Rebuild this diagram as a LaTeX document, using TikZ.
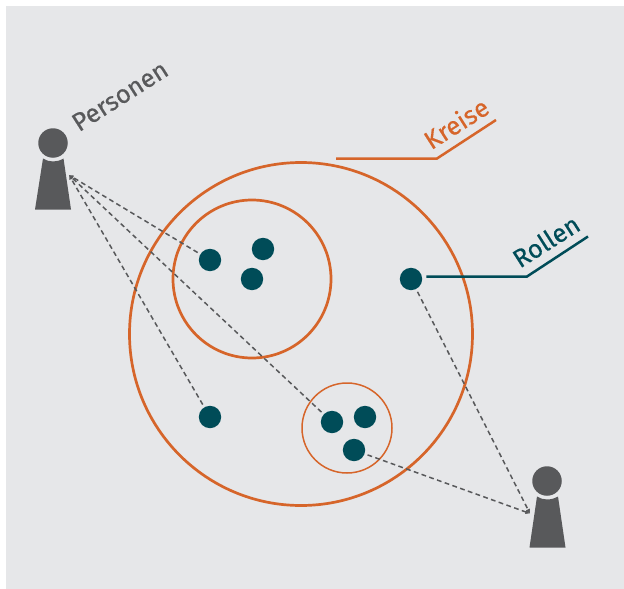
\documentclass[tikz,border=0pt]{standalone}
\usepackage{fontspec}
\setmainfont{Fira Sans}[FakeBold=0.45]
\definecolor{bgc}{HTML}{E6E7E9}
\definecolor{orng}{HTML}{D6652A}
\definecolor{teal}{HTML}{004C58}
\definecolor{grey}{HTML}{58595B}
\usetikzlibrary{arrows.meta}
\tikzset{
  x=1pt,y=-1pt,
  rolle/.style={circle,fill=teal,draw=none,minimum size=22.4pt,inner sep=0pt},
  kopf/.style={circle,fill=grey,draw=none,minimum size=29.5pt,inner sep=0pt},
  kreis/.style={circle,draw=orng,line width=#1,inner sep=0pt},
  kreis/.default=2.7pt,
  bezug/.style={draw=grey,line width=1.5pt,dash pattern=on 4.8pt off 3.4pt,shorten <=3pt,-{Latex[length=4.5pt,width=4.5pt]}},
  koerper/.style={fill=grey,draw=none},
  etikett/.style={font=\fontsize{25.5}{28}\selectfont,rotate=32.5,inner sep=0pt},
}
\begin{document}
\begin{tikzpicture}
\useasboundingbox (0,0) rectangle (624,589);
\fill[bgc] (6,6) rectangle (624,589);
% circles
\node[kreis,minimum size=343pt] (gross) at (301,334) {};
\node[kreis,minimum size=158pt] (mittel) at (252,279) {};
\node[kreis=1.5pt,minimum size=90pt] (klein) at (347,428) {};
% roles
\node[rolle] (r1) at (210,260) {};
\node[rolle] (r2) at (263,249) {};
\node[rolle] (r3) at (252,279) {};
\node[rolle] (r4) at (411,279) {};
\node[rolle] (r5) at (210,417) {};
\node[rolle] (r6) at (332,422) {};
\node[rolle] (r7) at (365,417) {};
\node[rolle] (r8) at (354,450) {};
% persons
\node[kopf] (p1) at (53,143) {};
\fill[koerper] (43,158.5) .. controls (49,162.5) and (57,162.5) .. (63.5,158.5) -- (71,209.5) -- (35,209.5) -- cycle;
\coordinate (a1) at (69,175);
\node[kopf] (p2) at (547,481) {};
\fill[koerper] (537,496.5) .. controls (543,500.5) and (551,500.5) .. (558,496.5) -- (565.5,547.5) -- (529.5,547.5) -- cycle;
\coordinate (a2) at (530,513.5);
% dashed
\draw[bezug] (r1) -- (a1);
\draw[bezug] (r6) -- (a1);
\draw[bezug] (r5) -- (a1);
\draw[bezug] (r4) -- (a2);
\draw[bezug] (r8) -- (a2);
% leaders
\coordinate (k1) at (336,158.5);
\coordinate (k2) at (437,158.5);
\coordinate (k3) at (496,120);
\draw[orng,line width=2.5pt] (k1) -- (k2) -- (k3);
\coordinate (l2) at (527,276.5);
\coordinate (l3) at (588,236.5);
\draw[teal,line width=2.5pt] (r4.east) ++(4,-2.5) coordinate (l1) -- (l2) -- (l3);
% labels
\node[etikett,text=grey] (tp) at (120,96) {Personen};
\node[etikett,text=orng] (tk) at (456,123) {Kreise};
\node[etikett,text=teal] (tr) at (546,241) {Rollen};
\end{tikzpicture}
\end{document}
